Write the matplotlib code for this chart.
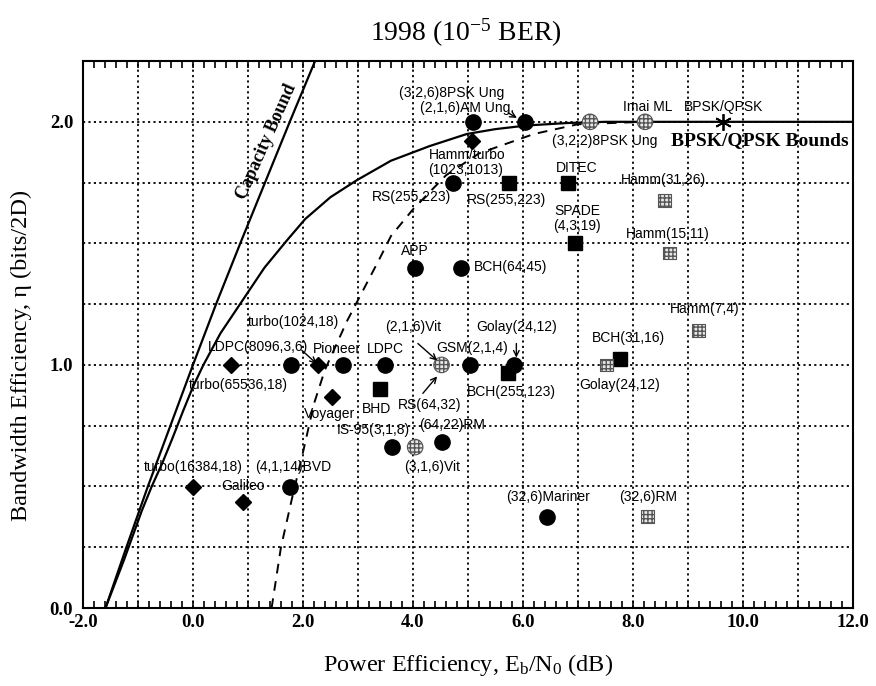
import matplotlib
matplotlib.use("Agg")
import matplotlib.pyplot as plt
from matplotlib.ticker import MultipleLocator, FuncFormatter

plt.rcParams['mathtext.fontset'] = 'custom'
plt.rcParams['mathtext.rm'] = 'Liberation Serif'
plt.rcParams['mathtext.it'] = 'Liberation Serif:italic'

# ---- curves (Eb/N0 in dB, eta in bits/2D) ----
cap_x = [-1.59, -1.21, -0.82, -0.41, 0.0, 0.42, 0.86, 1.31, 1.76, 2.22]
cap_y = [0.0, 0.25, 0.5, 0.75, 1.0, 1.25, 1.5, 1.75, 2.0, 2.25]

bpsk_x = [-1.59, -1.42, -1.25, -1.09, -0.93, -0.75, -0.55, -0.37, -0.18, 0.0,
          0.19, 0.5, 0.9, 1.3, 1.7, 2.04, 2.5, 2.98, 3.6, 4.3, 4.98, 5.5,
          6.07, 6.8, 7.5, 12.0]
bpsk_y = [0.0, 0.1, 0.2, 0.3, 0.4, 0.5, 0.6, 0.7, 0.81, 0.91,
          1.0, 1.13, 1.265, 1.4, 1.51, 1.6, 1.69, 1.76, 1.84, 1.9, 1.95, 1.97,
          1.985, 1.995, 2.0, 2.0]

dash_x = [1.43, 1.6, 1.8, 2.0, 2.2, 2.4, 2.8, 3.4, 3.6, 4.0, 4.6, 5.2, 6.2, 7.0, 8.2]
dash_y = [0.0, 0.25, 0.45, 0.64, 0.84, 0.98, 1.18, 1.44, 1.53, 1.64, 1.78, 1.87, 1.95, 1.99, 2.0]

# ---- code points ----
circle_x = [5.10, 6.04, 4.73, 4.04, 4.88, 1.79, 2.73, 3.50, 5.04, 5.83, 3.61, 4.52, 1.76, 6.44]
circle_y = [2.0, 2.0, 1.75, 1.40, 1.40, 1.0, 1.0, 1.0, 1.0, 1.0, 0.662, 0.683, 0.498, 0.375]

diamond_x = [5.07, 0.70, 2.28, 2.52, 0.0, 0.91]
diamond_y = [1.92, 1.0, 1.0, 0.87, 0.498, 0.437]

square_x = [5.75, 6.82, 6.95, 3.40, 5.73, 7.77]
square_y = [1.75, 1.75, 1.50, 0.90, 0.965, 1.025]

hcircle_x = [7.22, 8.22, 4.52, 4.04]
hcircle_y = [2.0, 2.0, 1.0, 0.662]

hsquare_x = [8.58, 8.67, 9.19, 7.52, 8.27]
hsquare_y = [1.676, 1.46, 1.142, 1.0, 0.375]

star_x = [9.64]
star_y = [2.0]

labels = [
    ("(3,2,6)8PSK Ung", 4.71, 2.12), ("(2,1,6)AM Ung.", 4.98, 2.056),
    ("Hamm/turbo", 4.98, 1.862), ("(1023,1013)", 4.95, 1.802),
    ("RS(255,223)", 3.97, 1.69), ("RS(255,223)", 5.70, 1.68),
    ("DITEC", 6.98, 1.81), ("SPADE", 6.98, 1.635), ("(4,3,19)", 6.98, 1.573),
    ("(3,2,2)8PSK Ung", 7.49, 1.922), ("Imai ML", 8.27, 2.059),
    ("BPSK/QPSK", 9.64, 2.062),
    ("Hamm(31,26)", 8.55, 1.762), ("Hamm(15,11)", 8.64, 1.54),
    ("Hamm(7,4)", 9.31, 1.228), ("BCH(31,16)", 7.91, 1.112),
    ("Golay(24,12)", 7.76, 0.916), ("APP", 4.04, 1.47),
    ("(2,1,6)Vit", 4.01, 1.155), ("GSM(2,1,4)", 5.07, 1.071),
    ("Golay(24,12)", 5.88, 1.155), ("LDPC", 3.49, 1.067),
    ("Pioneer", 2.61, 1.067), ("turbo(1024,18)", 1.82, 1.176),
    ("LDPC(8096,3,6)", 1.19, 1.073), ("turbo(65536,18)", 0.82, 0.916),
    ("BCH(255,123)", 5.79, 0.889), ("BHD", 3.34, 0.82),
    ("RS(64,32)", 4.31, 0.834), ("Voyager", 2.49, 0.80),
    ("IS-95(3,1,8)", 3.28, 0.731), ("(64,22)RM", 4.71, 0.752),
    ("(3,1,6)Vit", 4.34, 0.578), ("turbo(16384,18)", 0.0, 0.579),
    ("Galileo", 0.91, 0.50), ("(4,1,14)BVD", 1.82, 0.579),
    ("(32,6)Mariner", 6.46, 0.457), ("(32,6)RM", 8.28, 0.457),
    ("BCH(64,45)", 5.77, 1.402),
]

arrows = [
    ((4.09, 1.088), (4.44, 1.018)),
    ((4.18, 0.883), (4.44, 0.953)),
    ((5.88, 1.088), (5.88, 1.03)),
    ((1.98, 1.06), (2.25, 1.005)),
    ((5.73, 2.037), (5.89, 2.016)),
]

fig = plt.figure(figsize=(8.76, 6.86), dpi=100)
ax = fig.add_axes([0.0947, 0.1137, 0.879, 0.7973])

ax.plot(cap_x, cap_y, color='black', lw=1.6, zorder=2)
ax.plot(bpsk_x, bpsk_y, color='black', lw=1.6, zorder=2)
ax.plot(dash_x, dash_y, color='black', lw=1.4, dashes=(5, 4), zorder=2)

ax.plot(circle_x, circle_y, 'o', color='black', ms=11, zorder=4)
ax.plot(diamond_x, diamond_y, 'D', color='black', ms=8.5, zorder=4)
ax.plot(square_x, square_y, 's', color='black', ms=10, zorder=4)
ax.scatter(hcircle_x, hcircle_y, s=125, marker='o', facecolor='#e8e8e8',
           edgecolor='#555555', hatch='++++', linewidth=0.8, zorder=4)
ax.scatter(hsquare_x, hsquare_y, s=85, marker='s', facecolor='#e8e8e8',
           edgecolor='#555555', hatch='++++', linewidth=0.8, zorder=4)
ax.plot(star_x, star_y, marker=(6, 2, 0), color='black', ms=12, mew=1.3,
        ls='none', zorder=4)

for txt, x, y in labels:
    ax.text(x, y, txt, ha='center', va='center', fontsize=10,
            family='Liberation Sans', zorder=5)

for start, end in arrows:
    ax.annotate('', xy=end, xytext=start,
                arrowprops=dict(arrowstyle='->', color='black', lw=1.0,
                                shrinkA=0, shrinkB=0), zorder=5)

ax.text(10.3, 1.925, 'BPSK/QPSK Bounds', ha='center', va='center',
        fontsize=14, fontweight='bold', family='Liberation Serif', zorder=5)
ax.text(1.34, 1.92, 'Capacity Bound', ha='center', va='center', rotation=66,
        fontsize=13, fontweight='bold', family='Liberation Serif', zorder=5)

ax.set_xlim(-2, 12)
ax.set_ylim(0, 2.25)

ax.xaxis.set_major_locator(MultipleLocator(1.0))
ax.xaxis.set_minor_locator(MultipleLocator(0.2))
ax.yaxis.set_major_locator(MultipleLocator(0.25))
ax.xaxis.set_major_formatter(FuncFormatter(
    lambda v, p: f'{v:.1f}' if abs(v / 2 - round(v / 2)) < 1e-6 else ''))
ax.yaxis.set_major_formatter(FuncFormatter(
    lambda v, p: f'{v:.1f}' if abs(v - round(v)) < 1e-6 else ''))

ax.tick_params(axis='x', which='both', direction='in', length=5, width=1.2,
               top=True, bottom=True, pad=4)
ax.tick_params(axis='y', which='both', length=0, pad=7)
for lab in ax.get_xticklabels() + ax.get_yticklabels():
    lab.set_family('Liberation Serif')
    lab.set_fontweight('bold')
    lab.set_fontsize(13.5)

ax.grid(True, which='major', color='black', linestyle=(0, (1.2, 1.8)), lw=1.3)
ax.set_axisbelow(True)
for sp in ax.spines.values():
    sp.set_linewidth(1.5)

fig.text(0.532, 0.952, r'1998 (10$^{\mathrm{-5}}$ BER)', ha='center', va='center',
         fontsize=20, family='Liberation Serif')
fig.text(0.534, 0.031, r'Power Efficiency, E$_{\mathrm{b}}$/N$_{\mathrm{0}}$ (dB)',
         ha='center', va='center', fontsize=17.5, family='Liberation Serif')
fig.text(0.024, 0.4825, 'Bandwidth Efficiency, \u03b7 (bits/2D)', ha='center',
         va='center', rotation=90, fontsize=17.5, family='Liberation Serif')

fig.savefig('out.png', dpi=100)
